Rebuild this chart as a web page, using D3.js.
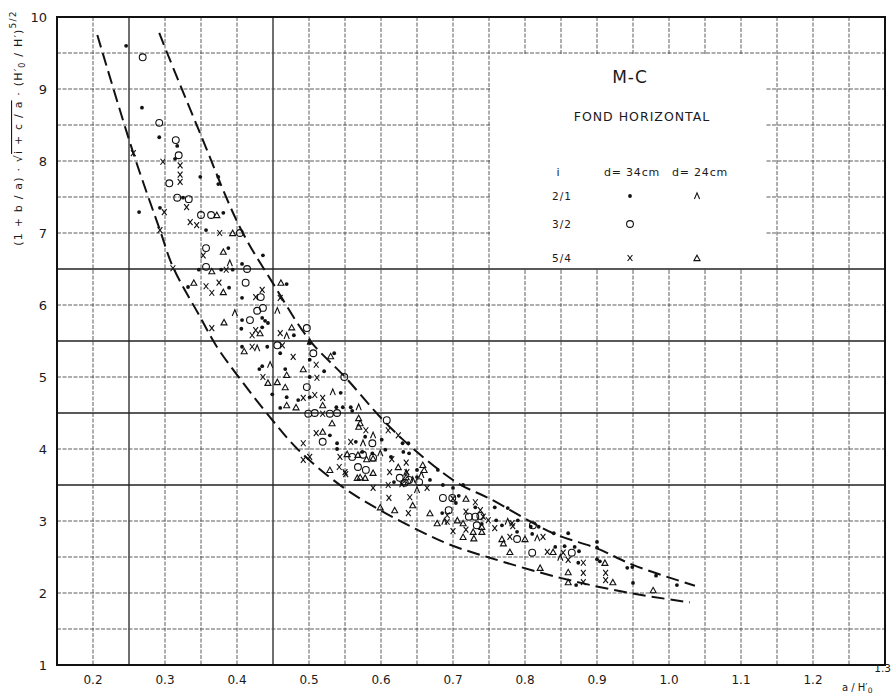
<!DOCTYPE html>
<html>
<head>
<meta charset="utf-8">
<script src="https://cdn.jsdelivr.net/npm/d3@7"></script>
<style>
  body { margin: 0; background: #fff; }
  text { font-family: "DejaVu Sans", sans-serif; fill: #1a1a1a; }
</style>
</head>
<body>
<div class="canvas"></div>
<script>
// axis ticks
const xTicks = [0.2, 0.3, 0.4, 0.5, 0.6, 0.7, 0.8, 0.9, 1.0, 1.1, 1.2, 1.3]
const xTickLabels = ['0.2', '0.3', '0.4', '0.5', '0.6', '0.7', '0.8', '0.9', '1.0', '1.1', '1.2', '1.3']
const yTicks = [1, 2, 3, 4, 5, 6, 7, 8, 9, 10]

// i = 2/1, d = 34cm  (filled dot)
const dots21 = [
  [0.246, 9.60], [0.268, 8.74], [0.292, 8.33], [0.317, 8.21], [0.314, 8.03], [0.349, 7.78],
  [0.374, 7.78], [0.374, 7.68], [0.325, 7.49], [0.264, 7.29], [0.293, 7.35], [0.381, 7.28],
  [0.357, 7.04], [0.388, 6.79], [0.436, 6.69], [0.407, 6.57], [0.347, 6.49], [0.378, 6.49],
  [0.394, 6.49], [0.332, 6.25], [0.389, 6.24], [0.469, 6.29], [0.407, 6.10], [0.407, 5.79],
  [0.435, 5.82], [0.439, 5.78], [0.443, 5.75], [0.406, 5.67], [0.435, 5.69], [0.479, 5.58],
  [0.407, 5.42], [0.442, 5.42], [0.460, 5.33], [0.431, 5.11], [0.435, 5.15], [0.467, 5.11],
  [0.449, 4.76], [0.469, 4.72], [0.485, 4.68], [0.460, 4.57], [0.501, 5.24], [0.535, 5.33],
  [0.521, 5.08], [0.501, 5.00], [0.544, 4.78], [0.501, 4.72], [0.538, 4.58], [0.547, 4.58],
  [0.558, 4.58], [0.560, 4.53], [0.529, 4.19], [0.539, 4.08], [0.565, 4.10], [0.601, 4.13],
  [0.630, 4.08], [0.638, 4.08], [0.539, 4.00], [0.574, 3.96], [0.588, 3.94], [0.606, 3.99],
  [0.578, 4.17], [0.614, 3.89], [0.631, 3.96], [0.639, 3.94], [0.618, 3.54], [0.650, 3.71],
  [0.668, 3.57], [0.679, 3.71], [0.650, 3.61], [0.686, 3.50], [0.700, 3.46], [0.714, 3.50],
  [0.708, 3.35], [0.704, 3.25], [0.731, 3.19], [0.740, 2.96], [0.760, 3.01], [0.768, 2.94],
  [0.790, 3.01], [0.789, 2.85], [0.758, 3.19], [0.776, 3.18], [0.808, 2.92], [0.819, 2.92],
  [0.810, 2.82], [0.840, 2.83], [0.860, 2.83], [0.842, 2.64], [0.855, 2.65], [0.869, 2.64],
  [0.875, 2.58], [0.874, 2.42], [0.871, 2.11], [0.900, 2.71], [0.900, 2.63], [0.900, 2.47],
  [0.904, 2.44], [0.942, 2.35], [0.949, 2.36], [0.950, 2.14], [0.982, 2.24], [1.011, 2.11],
  [0.501, 5.47], [0.685, 3.11]
]

// i = 2/1, d = 24cm  (caret)
const carets21 = [
  [0.390, 6.58], [0.397, 5.89], [0.456, 5.92], [0.469, 5.57], [0.428, 5.40], [0.446, 5.17],
  [0.533, 4.79], [0.569, 4.58], [0.589, 4.19], [0.575, 4.08], [0.599, 3.94], [0.644, 3.57],
  [0.650, 3.43], [0.635, 3.67], [0.656, 3.64], [0.688, 2.99], [0.776, 2.99], [0.817, 2.76],
  [0.849, 2.49], [0.501, 5.49]
]

// i = 3/2, d = 34cm  (open circle)
const circles32 = [
  [0.269, 9.44], [0.292, 8.53], [0.315, 8.29], [0.319, 8.08], [0.306, 7.69], [0.317, 7.49],
  [0.333, 7.47], [0.350, 7.25], [0.364, 7.25], [0.404, 7.00], [0.357, 6.79], [0.414, 6.50],
  [0.357, 6.53], [0.412, 6.31], [0.433, 6.11], [0.428, 5.92], [0.436, 5.96], [0.418, 5.79],
  [0.497, 5.68], [0.456, 5.44], [0.506, 5.33], [0.497, 4.86], [0.499, 4.49], [0.508, 4.50],
  [0.529, 4.49], [0.539, 4.50], [0.519, 4.10], [0.588, 4.08], [0.608, 4.40], [0.549, 5.00],
  [0.560, 3.89], [0.575, 3.92], [0.568, 3.75], [0.579, 3.71], [0.589, 3.88], [0.626, 3.60],
  [0.633, 3.53], [0.639, 3.57], [0.653, 3.54], [0.686, 3.32], [0.699, 3.32], [0.694, 3.15],
  [0.722, 3.06], [0.731, 3.06], [0.738, 3.07], [0.733, 2.94], [0.789, 2.75], [0.810, 2.56],
  [0.811, 2.94], [0.865, 2.56]
]

// i = 5/4, d = 34cm  (x)
const crosses54 = [
  [0.256, 8.11], [0.321, 7.94], [0.297, 7.99], [0.321, 7.81], [0.321, 7.71], [0.330, 7.36],
  [0.299, 7.29], [0.335, 7.15], [0.344, 7.11], [0.376, 7.00], [0.293, 7.04], [0.353, 6.69],
  [0.385, 6.49], [0.311, 6.51], [0.357, 6.26], [0.365, 6.17], [0.375, 6.31], [0.426, 6.11],
  [0.435, 6.21], [0.460, 6.10], [0.365, 5.68], [0.421, 5.58], [0.426, 5.65], [0.460, 5.61],
  [0.421, 5.42], [0.463, 5.44], [0.478, 5.28], [0.436, 5.00], [0.510, 5.17], [0.511, 4.99],
  [0.508, 4.75], [0.492, 4.71], [0.519, 4.71], [0.519, 4.49], [0.510, 4.22], [0.579, 4.26],
  [0.492, 4.08], [0.558, 4.10], [0.610, 4.26], [0.624, 4.19], [0.543, 3.89], [0.492, 3.85],
  [0.501, 3.89], [0.542, 3.75], [0.550, 3.68], [0.612, 3.68], [0.635, 3.81], [0.636, 3.68],
  [0.615, 3.86], [0.551, 3.65], [0.629, 3.51], [0.589, 3.46], [0.610, 3.50], [0.611, 3.32],
  [0.640, 3.33], [0.664, 3.46], [0.700, 3.31], [0.731, 3.26], [0.738, 3.15], [0.692, 3.08],
  [0.718, 3.13], [0.742, 3.06], [0.700, 2.86], [0.718, 2.88], [0.749, 3.01], [0.758, 2.90],
  [0.782, 2.97], [0.779, 2.78], [0.783, 2.93], [0.825, 2.78], [0.831, 2.57], [0.853, 2.56],
  [0.860, 2.46], [0.881, 2.42], [0.881, 2.28], [0.881, 2.15], [0.912, 2.28], [0.912, 2.18],
  [0.638, 3.11], [0.692, 2.99]
]

// i = 5/4, d = 24cm  (triangle)
const triangles54 = [
  [0.372, 7.25], [0.394, 7.00], [0.381, 6.74], [0.365, 6.47], [0.340, 6.31], [0.381, 6.18],
  [0.461, 6.31], [0.382, 5.76], [0.432, 5.61], [0.476, 5.69], [0.410, 5.36], [0.443, 4.92],
  [0.456, 4.93], [0.469, 5.03], [0.467, 4.86], [0.469, 4.61], [0.482, 4.58], [0.492, 5.11],
  [0.530, 5.29], [0.519, 4.61], [0.532, 4.36], [0.569, 4.43], [0.571, 4.36], [0.569, 4.31],
  [0.519, 4.24], [0.553, 3.93], [0.568, 3.92], [0.580, 3.86], [0.589, 3.87], [0.529, 3.71],
  [0.567, 3.60], [0.578, 3.60], [0.589, 3.67], [0.571, 3.61], [0.624, 3.75], [0.658, 3.78],
  [0.660, 3.71], [0.635, 3.61], [0.631, 3.54], [0.718, 3.31], [0.706, 3.01], [0.714, 2.97],
  [0.740, 2.92], [0.728, 2.85], [0.740, 2.85], [0.714, 2.78], [0.729, 2.76], [0.768, 2.75],
  [0.770, 2.69], [0.779, 2.57], [0.800, 2.75], [0.821, 2.35], [0.839, 2.57], [0.860, 2.29],
  [0.860, 2.15], [0.911, 2.42], [0.922, 2.15], [0.978, 2.04], [0.599, 3.19], [0.619, 3.15],
  [0.644, 3.22], [0.668, 3.11], [0.678, 2.97]
]

// hand-drawn envelope curves
const upperEnvelope = [
  [0.292, 9.78], [0.303, 9.50], [0.349, 8.38], [0.404, 7.08], [0.450, 6.30], [0.501, 5.51],
  [0.550, 5.00], [0.603, 4.40], [0.644, 4.01], [0.706, 3.53], [0.751, 3.31], [0.839, 2.83],
  [0.900, 2.62], [0.950, 2.39], [1.036, 2.10]
]
const lowerEnvelope = [
  [0.206, 9.75], [0.256, 8.11], [0.293, 7.04], [0.311, 6.53], [0.349, 5.83], [0.372, 5.42],
  [0.400, 5.03], [0.446, 4.44], [0.485, 3.99], [0.547, 3.47], [0.599, 3.15], [0.650, 2.88],
  [0.696, 2.67], [0.751, 2.49], [0.849, 2.21], [0.940, 2.01], [1.029, 1.87]
]

const legendRows = ['2/1', '3/2', '5/4']
const legendD34 = ['dot', 'circle', 'cross']
const legendD24 = ['caret', null, 'triangle']

const width = 893
const height = 695
const margin = { left: 57, right: 8, top: 17, bottom: 30 }

const svg = d3
  .select('.canvas')
  .append('svg')
  .attr('width', width)
  .attr('height', height)

const x = d3.scaleLinear().domain([0.15, 1.3]).range([margin.left, width - margin.right])
const y = d3.scaleLinear().domain([1, 10]).range([height - margin.bottom, margin.top])

// graph-paper grid
const xGrid = d3.range(4, 26).map((i) => +(i * 0.05).toFixed(2))
const yGrid = d3.range(3, 20).map((i) => i * 0.5)
const xSolid = [0.25, 0.45]
const ySolid = [3.5, 4.5, 5.5, 6.5]

const grid = svg.append('g')
grid
  .selectAll('line.v')
  .data(xGrid)
  .join('line')
  .attr('class', 'v')
  .attr('x1', (d) => x(d))
  .attr('x2', (d) => x(d))
  .attr('y1', y(10))
  .attr('y2', y(1))
  .attr('stroke', (d) => (xSolid.includes(d) ? '#222' : '#4a4a4a'))
  .attr('stroke-width', (d) => (xSolid.includes(d) ? 1.3 : 0.9))
  .attr('stroke-dasharray', (d) => (xSolid.includes(d) ? null : '4,1.5'))

grid
  .selectAll('line.h')
  .data(yGrid)
  .join('line')
  .attr('class', 'h')
  .attr('x1', x(0.15))
  .attr('x2', x(1.3))
  .attr('y1', (d) => y(d))
  .attr('y2', (d) => y(d))
  .attr('stroke', (d) => (ySolid.includes(d) ? '#222' : '#4a4a4a'))
  .attr('stroke-width', (d) => (ySolid.includes(d) ? 1.3 : 0.9))
  .attr('stroke-dasharray', (d) => (ySolid.includes(d) ? null : '4,1.5'))

// white legend panel covering the grid
svg
  .append('rect')
  .attr('x', x(0.75) + 1)
  .attr('y', y(9.5) + 1)
  .attr('width', x(1.133) - x(0.75))
  .attr('height', y(6.5) - y(9.5) - 2)
  .attr('fill', '#fff')

// frame
svg
  .append('rect')
  .attr('x', x(0.15))
  .attr('y', y(10))
  .attr('width', x(1.3) - x(0.15))
  .attr('height', y(1) - y(10))
  .attr('fill', 'none')
  .attr('stroke', '#111')
  .attr('stroke-width', 2)

// envelope curves
const line = d3
  .line()
  .x((d) => x(d[0]))
  .y((d) => y(d[1]))
  .curve(d3.curveCatmullRom)

svg
  .selectAll('path.env')
  .data([upperEnvelope, lowerEnvelope])
  .join('path')
  .attr('class', 'env')
  .attr('d', line)
  .attr('fill', 'none')
  .attr('stroke', '#111')
  .attr('stroke-width', 2)
  .attr('stroke-dasharray', '13,6')

// marker shapes
const markerPath = {
  cross: 'M-2.4,-3L2.4,3M2.4,-3L-2.4,3',
  caret: 'M-2.6,3L0,-3.2L2.6,3',
  triangle: 'M-3,2.6L0,-2.8L3,2.6Z',
}

function drawMarkers(g, data, kind) {
  if (kind === 'dot') {
    g.selectAll(null)
      .data(data)
      .join('circle')
      .attr('cx', (d) => x(d[0]))
      .attr('cy', (d) => y(d[1]))
      .attr('r', 1.9)
      .attr('fill', '#111')
  } else if (kind === 'circle') {
    g.selectAll(null)
      .data(data)
      .join('circle')
      .attr('cx', (d) => x(d[0]))
      .attr('cy', (d) => y(d[1]))
      .attr('r', 3.4)
      .attr('fill', 'none')
      .attr('stroke', '#111')
      .attr('stroke-width', 1.1)
  } else {
    g.selectAll(null)
      .data(data)
      .join('path')
      .attr('transform', (d) => `translate(${x(d[0])},${y(d[1])})`)
      .attr('d', markerPath[kind])
      .attr('fill', 'none')
      .attr('stroke', '#111')
      .attr('stroke-width', 1.1)
  }
}

const points = svg.append('g')
drawMarkers(points.append('g'), dots21, 'dot')
drawMarkers(points.append('g'), carets21, 'caret')
drawMarkers(points.append('g'), circles32, 'circle')
drawMarkers(points.append('g'), crosses54, 'cross')
drawMarkers(points.append('g'), triangles54, 'triangle')

// tick labels
svg
  .append('g')
  .selectAll('text')
  .data(yTicks)
  .join('text')
  .attr('x', 47)
  .attr('y', (d) => y(d) + 5)
  .attr('text-anchor', 'end')
  .attr('font-size', 13)
  .text((d) => d)

const lastTick = xTicks.length - 1
svg
  .append('g')
  .selectAll('text')
  .data(xTicks)
  .join('text')
  .attr('x', (d) => x(d))
  .attr('y', (d, i) => (i === lastTick ? 672 : 684))
  .attr('text-anchor', (d, i) => (i === lastTick ? 'end' : 'middle'))
  .attr('dx', (d, i) => (i === lastTick ? 6 : 0))
  .attr('font-size', (d, i) => (i === lastTick ? 10.5 : 12))
  .text((d, i) => xTickLabels[i])

// x axis title
const xt = svg.append('text').attr('x', 842).attr('y', 691).attr('font-size', 10)
xt.append('tspan').text('a / H\u2032')
xt.append('tspan').text('0').attr('font-size', 7.5).attr('dy', 2)

// y axis title
const yt = svg
  .append('text')
  .attr('transform', 'translate(22,128) rotate(-90)')
  .attr('text-anchor', 'middle')
  .attr('font-size', 11)
  .attr('letter-spacing', 1.2)
yt.append('tspan').text('(1 + b / a) \u00b7 \u221a')
yt.append('tspan').text('i + c / a').style('text-decoration', 'overline')
yt.append('tspan').text(' \u00b7 (H\u2032')
yt.append('tspan').text('0').attr('font-size', 8).attr('dy', 3)
yt.append('tspan').text(' / H\u2032)').attr('dy', -3)
yt.append('tspan').text('5/2').attr('font-size', 9).attr('dy', -6)

// legend
const lg = svg.append('g')
lg.append('text').attr('x', 630).attr('y', 83).attr('text-anchor', 'middle')
  .attr('font-size', 17).attr('letter-spacing', 1).text('M-C')
lg.append('text').attr('x', 642).attr('y', 121).attr('text-anchor', 'middle')
  .attr('font-size', 12.5).attr('letter-spacing', 1).text('FOND HORIZONTAL')
lg.append('text').attr('x', 558).attr('y', 176).attr('text-anchor', 'middle')
  .attr('font-size', 11).text('i')
lg.append('text').attr('x', 632).attr('y', 176).attr('text-anchor', 'middle')
  .attr('font-size', 11).attr('letter-spacing', 0.8).text('d= 34cm')
lg.append('text').attr('x', 700).attr('y', 176).attr('text-anchor', 'middle')
  .attr('font-size', 11).attr('letter-spacing', 0.8).text('d= 24cm')

const rowY = [196, 224, 258]
legendRows.forEach((r, i) => {
  lg.append('text').attr('x', 562).attr('y', rowY[i] + 4).attr('text-anchor', 'middle')
    .attr('font-size', 10.5).attr('letter-spacing', 1).text(r)
  const g1 = lg.append('g').attr('transform', `translate(${630 - x(0)},${rowY[i] - y(0)})`)
  drawMarkers(g1, [[0, 0]], legendD34[i])
  if (legendD24[i]) {
    const g2 = lg.append('g').attr('transform', `translate(${697 - x(0)},${rowY[i] - y(0)})`)
    drawMarkers(g2, [[0, 0]], legendD24[i])
  }
})
</script>
</body>
</html>
